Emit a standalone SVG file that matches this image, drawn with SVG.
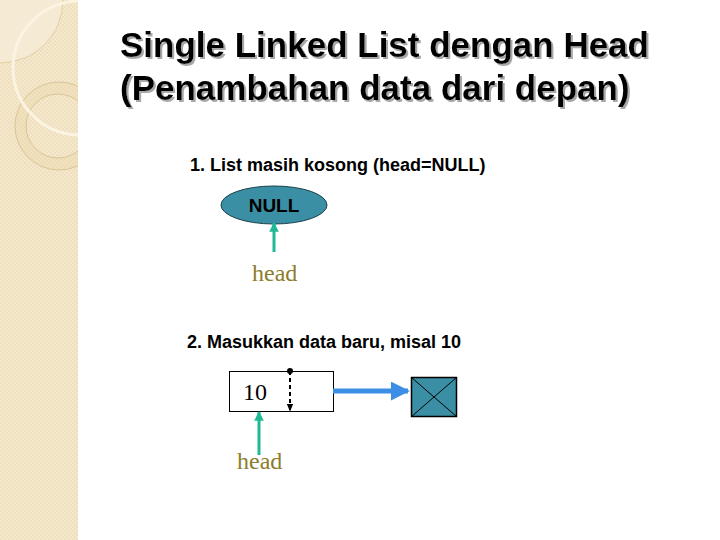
<svg xmlns="http://www.w3.org/2000/svg" width="720" height="540" viewBox="0 0 720 540">
<defs>
<pattern id="chk" width="4" height="4" patternUnits="userSpaceOnUse">
<rect width="4" height="4" fill="#efdfbd"/>
<rect width="2" height="2" fill="#f4e8cf"/>
<rect x="2" y="2" width="2" height="2" fill="#f4e8cf"/>
</pattern>
<clipPath id="side"><rect x="0" y="0" width="78" height="540"/></clipPath>
<filter id="shadow" x="-5%" y="-20%" width="110%" height="140%">
<feDropShadow dx="2" dy="2" stdDeviation="0.6" flood-color="#a8a8a8" flood-opacity="1"/>
</filter>
<marker id="ga" viewBox="0 0 10 10" refX="9" refY="5" markerWidth="3.2" markerHeight="3.2" orient="auto"><path d="M0,0 L10,5 L0,10 z" fill="#21b995"/></marker>
<marker id="ba" viewBox="0 0 10 10" refX="9" refY="5" markerWidth="3.8" markerHeight="3.8" orient="auto"><path d="M0,0 L10,5 L0,10 z" fill="#3d8fe6"/></marker>
<marker id="ka" viewBox="0 0 10 10" refX="9" refY="5" markerWidth="4" markerHeight="4" orient="auto"><path d="M0,1 L10,5 L0,9 z" fill="#000"/></marker>
<marker id="dot" viewBox="0 0 10 10" refX="5" refY="5" markerWidth="3" markerHeight="3"><circle cx="5" cy="5" r="5" fill="#000"/></marker>
</defs>
<style>
.title{font-family:"Liberation Sans",Arial,sans-serif;font-size:35px;font-weight:bold;fill:#000}
.sub{font-family:"Liberation Sans",Arial,sans-serif;font-size:18px;font-weight:bold;fill:#000}
.lbl{font-family:"Liberation Serif","Times New Roman",serif;font-size:24px;fill:#8c7d2c}
.num{font-family:"Liberation Serif","Times New Roman",serif;font-size:24px;fill:#000}
.gline{stroke:#21b995;stroke-width:3;fill:none}
</style>
<rect width="720" height="540" fill="#fff"/>
<g id="side-panel" clip-path="url(#side)">
<rect x="0" y="0" width="78" height="540" fill="url(#chk)"/>
<circle cx="0" cy="0" r="63" fill="#f5ead3" stroke="#e2cfa3" stroke-width="1"/>
<circle cx="59" cy="126" r="44" fill="#ecd9b0" fill-opacity="0.5" stroke="#d9c596" stroke-width="1"/>
<circle cx="58" cy="126" r="32" fill="url(#chk)" stroke="#d9c596" stroke-width="1"/>
<circle cx="80" cy="68" r="67" fill="none" stroke="#fbf4e2" stroke-width="3"/>
</g>
<g id="title" filter="url(#shadow)">
<text class="title" x="120" y="57">Single Linked List dengan Head</text>
<text class="title" x="120" y="100">(Penambahan data dari depan)</text>
</g>
<text class="sub" x="190" y="171">1. List masih kosong (head=NULL)</text>
<text class="sub" x="187" y="348">2. Masukkan data baru, misal 10</text>
<g id="null-node">
<ellipse cx="274" cy="205" rx="53" ry="19" fill="#3a8fa5" stroke="#1c3f4a" stroke-width="1"/>
<text x="274" y="212" text-anchor="middle" font-family="Liberation Sans,Arial,sans-serif" font-size="19" font-weight="bold" fill="#000">NULL</text>
</g>
<g id="head1"><text class="lbl" x="252" y="281">head</text></g>
<g id="node10">
<rect x="229.5" y="371.5" width="104" height="40" fill="#fff" stroke="#000" stroke-width="1"/>
<text class="num" x="243" y="400">10</text>
</g>
<g id="null-box">
<rect x="411.5" y="377.5" width="45" height="39" fill="#3a8fa5" stroke="#000" stroke-width="1.5"/>
<path d="M411.5,377.5 L456.5,416.5 M456.5,377.5 L411.5,416.5" stroke="#000" stroke-width="1" fill="none"/>
</g>
<g id="head2"><text class="lbl" x="237" y="469">head</text></g>
<g id="connectors">
<line class="gline" x1="274" y1="252" x2="274" y2="223" marker-end="url(#ga)"/>
<line class="gline" x1="259" y1="455" x2="259" y2="412" marker-end="url(#ga)"/>
<line x1="290" y1="371" x2="290" y2="411" stroke="#000" stroke-width="2" stroke-dasharray="4,3" marker-start="url(#dot)" marker-end="url(#ka)"/>
<line x1="333" y1="391" x2="408" y2="391" stroke="#3d8fe6" stroke-width="5" marker-end="url(#ba)"/>
</g>
</svg>
